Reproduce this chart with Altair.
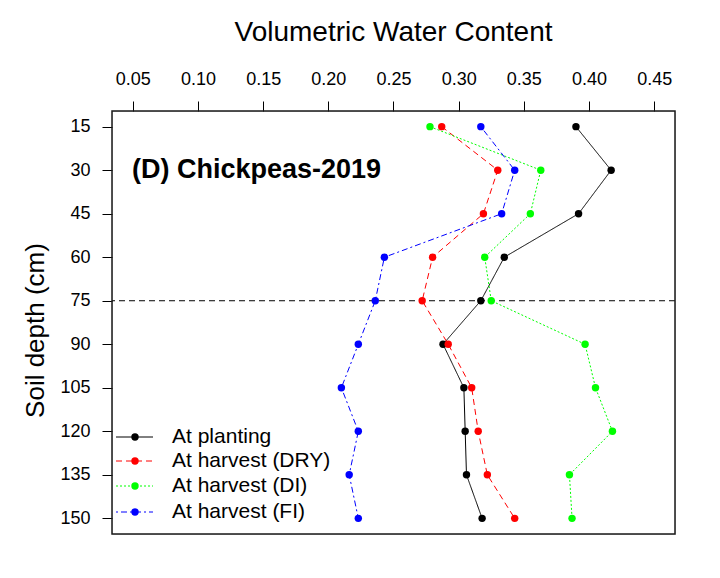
import altair as alt
import pandas as pd

depths = [15, 30, 45, 60, 75, 90, 105, 120, 135, 150]
planting = [0.390, 0.417, 0.392, 0.335, 0.317, 0.288, 0.304, 0.305, 0.306, 0.318]
dry = [0.287, 0.330, 0.319, 0.280, 0.272, 0.292, 0.310, 0.315, 0.322, 0.343]
di = [0.278, 0.363, 0.355, 0.320, 0.325, 0.397, 0.405, 0.418, 0.385, 0.387]
fi = [0.317, 0.343, 0.333, 0.243, 0.236, 0.223, 0.210, 0.223, 0.216, 0.223]
series_names = ["At planting", "At harvest (DRY)", "At harvest (DI)", "At harvest (FI)"]
colors = ["#000000", "#FF0000", "#00FF00", "#0000FF"]
dashes = [[1, 0], [6, 4], [2, 2], [2, 3, 6, 3]]
x_ticks = [0.05, 0.10, 0.15, 0.20, 0.25, 0.30, 0.35, 0.40, 0.45]
ref_depth = [75]

FONT = "Liberation Sans"

rows = []
for name, vals in zip(series_names, [planting, dry, di, fi]):
    for d, v in zip(depths, vals):
        rows.append({"series": name, "depth": d, "vwc": v})
df = pd.DataFrame(rows)

xscale = alt.Scale(domain=[0.034, 0.466], nice=False, zero=False)
yscale = alt.Scale(domain=[9.6, 155.4], reverse=True, nice=False, zero=False)
cscale = alt.Scale(domain=series_names, range=colors)
dscale = alt.Scale(domain=series_names, range=dashes)

xaxis = alt.Axis(orient="top", values=x_ticks, format=".2f", grid=False, domain=False,
                 tickSize=10, tickColor="black", labelFontSize=18, labelFont=FONT,
                 labelColor="black", labelPadding=13, title="Volumetric Water Content",
                 titleFont=FONT, titleFontSize=28, titleFontWeight="normal", titleColor="black",
                 titleX=281, titleY=-79, titleBaseline="middle", titleAlign="center",
                 labelFlush=False)
yaxis = alt.Axis(values=depths, grid=False, domain=False, tickSize=10, tickColor="black",
                 labelFontSize=18, labelFont=FONT, labelColor="black", labelPadding=12,
                 title="Soil depth (cm)", titleFont=FONT, titleFontSize=26,
                 titleFontWeight="normal", titleColor="black", titleAngle=-90,
                 titleX=-77, titleY=219, titleBaseline="middle", titleAlign="center",
                 labelFlush=False)

base = alt.Chart(df)
lines = base.mark_line(strokeWidth=1).encode(
    x=alt.X("vwc:Q", scale=xscale, axis=xaxis),
    y=alt.Y("depth:Q", scale=yscale, axis=yaxis),
    color=alt.Color("series:N", scale=cscale, legend=None),
    strokeDash=alt.StrokeDash("series:N", scale=dscale, legend=None),
    order=alt.Order("depth:Q"),
)
points = base.mark_circle(size=55, opacity=1).encode(
    x=alt.X("vwc:Q", scale=xscale),
    y=alt.Y("depth:Q", scale=yscale),
    color=alt.Color("series:N", scale=cscale, legend=None),
)
hline = alt.Chart(pd.DataFrame({"d": ref_depth})).mark_rule(
    color="black", strokeWidth=1, strokeDash=[6, 4]
).encode(y=alt.Y("d:Q", scale=yscale))

frame = alt.Chart(pd.DataFrame({"t": ["box"]})).mark_rect(
    fill=None, fillOpacity=0, stroke="#1a1a1a", strokeWidth=1.5
).encode(x=alt.value(0), x2=alt.value(563), y=alt.value(0), y2=alt.value(423))

label = alt.Chart(pd.DataFrame({"t": ["(D) Chickpeas-2019"]})).mark_text(
    align="left", baseline="middle", font=FONT, fontSize=27, fontWeight="bold", color="black"
).encode(text="t:N", x=alt.value(20), y=alt.value(59))

legend_layers = []
leg_y = [326, 350, 375, 401]
for name, col, dash, yy in zip(series_names, colors, dashes, leg_y):
    ld = pd.DataFrame({"t": [name]})
    legend_layers.append(
        alt.Chart(ld).mark_rule(color=col, strokeWidth=1, strokeDash=dash).encode(
            x=alt.value(4), x2=alt.value(41), y=alt.value(yy))
    )
    legend_layers.append(
        alt.Chart(ld).mark_circle(color=col, size=55, opacity=1).encode(
            x=alt.value(23), y=alt.value(yy))
    )
    legend_layers.append(
        alt.Chart(ld).mark_text(align="left", baseline="middle", font=FONT, fontSize=21,
                                color="black").encode(
            text="t:N", x=alt.value(60), y=alt.value(yy))
    )

chart = alt.layer(hline, lines, points, frame, label, *legend_layers).properties(
    width=563, height=423,
    autosize=alt.AutoSizeParams(type="none"),
    padding={"left": 104, "top": 103, "right": 30, "bottom": 30},
).configure_view(strokeWidth=0).configure(background="white")

chart.save("out.html", embed_options={"renderer": "svg", "actions": False})
